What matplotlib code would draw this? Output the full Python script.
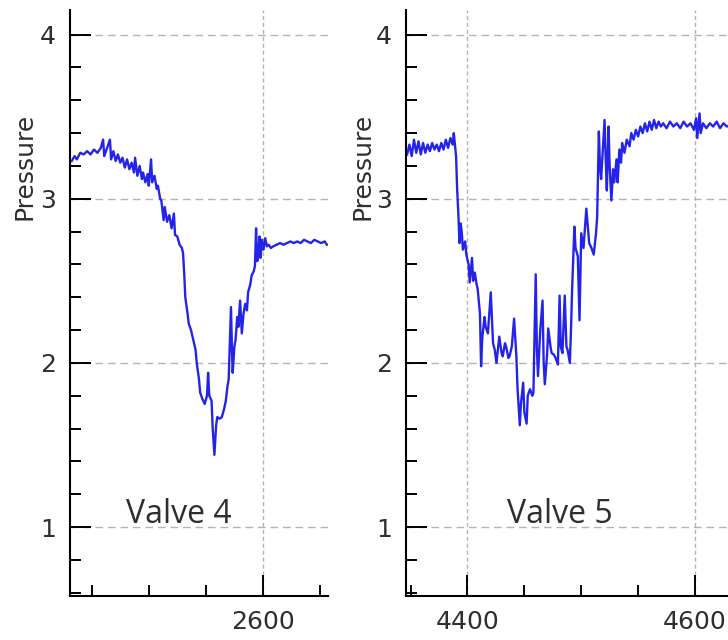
import matplotlib.pyplot as plt
from matplotlib.ticker import MultipleLocator

# Valve 4 trace (time index, pressure)
v4_t = [2432.5, 2435, 2437, 2440, 2443, 2446, 2449, 2452, 2455, 2458, 2460, 2461, 2463,
        2466, 2467, 2469, 2471, 2473, 2475, 2477, 2479, 2481, 2483, 2485, 2487, 2488,
        2490, 2492, 2494, 2495, 2497, 2499, 2500, 2502, 2503, 2505, 2507, 2508, 2510,
        2511, 2513, 2514, 2516, 2518, 2520, 2522, 2523, 2525, 2527, 2529, 2530, 2531,
        2532, 2534, 2535, 2537, 2539, 2541, 2542, 2544, 2545, 2547, 2549, 2551, 2552,
        2553, 2555, 2556, 2557.5, 2559, 2560, 2562, 2564, 2566, 2567.5, 2569, 2570,
        2572, 2573, 2573.5, 2575, 2576, 2577.5, 2578.5, 2580, 2581.5, 2583, 2584.5,
        2586, 2587, 2589, 2590, 2592, 2593, 2594, 2595, 2596, 2597, 2598, 2599,
        2600.5, 2602, 2603.5, 2605, 2607, 2609, 2612, 2615, 2618, 2621, 2624, 2627,
        2630, 2633, 2636, 2639, 2642, 2645, 2648, 2651, 2654, 2656]
v4_p = [3.23, 3.26, 3.24, 3.28, 3.27, 3.29, 3.27, 3.30, 3.28, 3.31, 3.36, 3.26, 3.30,
        3.36, 3.24, 3.29, 3.23, 3.27, 3.22, 3.25, 3.19, 3.24, 3.18, 3.22, 3.16, 3.25,
        3.14, 3.20, 3.12, 3.16, 3.10, 3.15, 3.08, 3.24, 3.10, 3.14, 3.06, 3.08, 3.00,
        2.99, 2.87, 2.95, 2.86, 2.90, 2.82, 2.91, 2.78, 2.77, 2.72, 2.70, 2.67, 2.55,
        2.40, 2.30, 2.24, 2.20, 2.14, 2.08, 2.00, 1.90, 1.82, 1.78, 1.75, 1.80, 1.94,
        1.80, 1.77, 1.60, 1.44, 1.62, 1.67, 1.66, 1.67, 1.72, 1.77, 1.86, 1.90,
        2.34, 2.05, 1.94, 2.10, 2.14, 2.28, 2.22, 2.38, 2.18, 2.30, 2.36,
        2.32, 2.43, 2.48, 2.53, 2.56, 2.59, 2.82, 2.62, 2.65, 2.77, 2.64, 2.75,
        2.69, 2.76, 2.71, 2.72, 2.70, 2.71, 2.72, 2.73, 2.72, 2.73, 2.74, 2.73,
        2.74, 2.73, 2.75, 2.74, 2.73, 2.75, 2.74, 2.73, 2.74, 2.72]

# Valve 5 trace
v5_t = [4347, 4349, 4351, 4353, 4355, 4357, 4359, 4361, 4363, 4365, 4367, 4369, 4371,
        4373, 4375, 4377, 4379, 4381, 4383, 4385, 4387, 4388, 4390, 4391, 4392, 4393,
        4394, 4395, 4396, 4398, 4399, 4401, 4402, 4404, 4405, 4406.5, 4408, 4409, 4411,
        4412, 4413, 4415, 4416, 4418, 4420.5, 4422.5, 4424, 4425.5, 4428, 4430, 4431,
        4433, 4434, 4436, 4437, 4439, 4441, 4443, 4444, 4446, 4447, 4449, 4450, 4452,
        4453, 4455, 4457, 4458, 4460, 4461, 4462, 4464, 4466, 4467, 4468, 4470, 4471,
        4473, 4474, 4476, 4477.5, 4479.5, 4481, 4482, 4483.5, 4485.5, 4487, 4488, 4490,
        4491, 4492, 4494, 4495, 4497, 4498.5, 4500, 4502, 4504.5, 4507, 4509, 4511,
        4513, 4514, 4515.5, 4516.5, 4517.5, 4519, 4520.5, 4521.5, 4522.5, 4524, 4525,
        4526.5, 4528, 4529, 4531, 4532, 4533.5, 4535, 4536, 4538, 4540, 4542.5, 4544,
        4546, 4548, 4550, 4552, 4554, 4556, 4558, 4560, 4562, 4564, 4566, 4568, 4570,
        4572, 4575, 4578, 4581, 4584, 4587, 4590, 4593, 4596, 4599, 4601, 4602, 4604,
        4605, 4607, 4610, 4613, 4616, 4619, 4622, 4625, 4628, 4632]
v5_p = [3.27, 3.33, 3.26, 3.36, 3.28, 3.35, 3.27, 3.34, 3.28, 3.33, 3.29, 3.34, 3.30,
        3.33, 3.29, 3.34, 3.30, 3.36, 3.31, 3.37, 3.33, 3.40, 3.26, 3.05, 2.91, 2.73,
        2.85, 2.80, 2.69, 2.74, 2.66, 2.60, 2.49, 2.64, 2.50, 2.55, 2.48, 2.45, 2.30,
        1.98, 2.15, 2.28, 2.22, 2.18, 2.43, 2.12, 2.08, 2.00, 2.16, 2.06, 2.04,
        2.12, 2.10, 2.03, 2.04, 2.10, 2.27, 2.04, 1.85, 1.62, 1.75, 1.88, 1.70, 1.63,
        1.80, 1.84, 1.80, 1.82, 2.54, 2.10, 1.92, 2.20, 2.38, 2.00, 1.87, 2.05, 2.21,
        2.10, 2.06, 2.05, 2.03, 1.99, 2.41, 2.10, 2.06, 2.41, 2.10, 2.08, 2.00,
        2.20, 2.45, 2.83, 2.70, 2.65, 2.26, 2.79, 2.70, 2.94, 2.73, 2.70, 2.66,
        2.79, 2.89, 3.41, 3.20, 3.12, 3.30, 3.48, 3.25, 3.05, 3.44, 3.20,
        2.99, 3.18, 3.10, 3.24, 3.10, 3.30, 3.22, 3.34, 3.28, 3.36, 3.32, 3.40,
        3.36, 3.42, 3.38, 3.44, 3.40, 3.46, 3.41, 3.47, 3.42, 3.48, 3.43, 3.47, 3.44,
        3.46, 3.43, 3.47, 3.44, 3.46, 3.43, 3.47, 3.44, 3.46, 3.42, 3.49, 3.37, 3.52,
        3.40, 3.46, 3.43, 3.46, 3.44, 3.47, 3.43, 3.46, 3.44, 3.45]

line_color = '#2424e8'
grid_color = '#b4b4b4'
text_color = '#2e2e2e'

fig = plt.figure(figsize=(7.28, 6.40), dpi=100)
ax1 = fig.add_axes([70/728, 44/640, 258/728, 586/640])
ax2 = fig.add_axes([406/728, 44/640, 322/728, 586/640])

panels = [
    (ax1, v4_t, v4_p, (2431, 2657), 'Valve 4', 2526),
    (ax2, v5_t, v5_p, (4346, 4629), 'Valve 5', 4481),
]

for ax, t, p, xlim, label, label_x in panels:
    ax.plot(t, p, color=line_color, linewidth=1.7)
    ax.set_xlim(*xlim)
    ax.set_ylim(0.58, 4.15)

    ax.xaxis.set_major_locator(MultipleLocator(200))
    ax.xaxis.set_minor_locator(MultipleLocator(50))
    ax.yaxis.set_major_locator(MultipleLocator(1))
    ax.yaxis.set_minor_locator(MultipleLocator(0.2))

    ax.tick_params(which='both', direction='in', width=1.4, colors='black',
                   labelcolor=text_color, labelsize=18)
    ax.tick_params(which='major', length=15)
    ax.tick_params(which='minor', length=8)
    ax.tick_params(axis='y', pad=10)
    ax.tick_params(axis='x', pad=10)

    ax.spines['top'].set_visible(False)
    ax.spines['right'].set_visible(False)
    for s in ('left', 'bottom'):
        ax.spines[s].set_linewidth(1.5)

    ax.grid(axis='y', which='major', color=grid_color, linestyle=(0, (5.5, 3.5)), linewidth=1)
    ax.grid(axis='x', which='major', color=grid_color, linestyle=(0, (3, 2)), linewidth=1)
    ax.set_axisbelow(True)

    ax.text(label_x, 1.025, label, fontsize=23, family='Open Sans', color=text_color,
            ha='center', va='baseline')

fig.text(24/728, 1 - 166.5/640, 'Pressure', rotation=90, ha='center', va='center',
         fontsize=18, color=text_color)
fig.text(363/728, 1 - 166.5/640, 'Pressure', rotation=90, ha='center', va='center',
         fontsize=18, color=text_color)

plt.savefig('out.png', dpi=100)
